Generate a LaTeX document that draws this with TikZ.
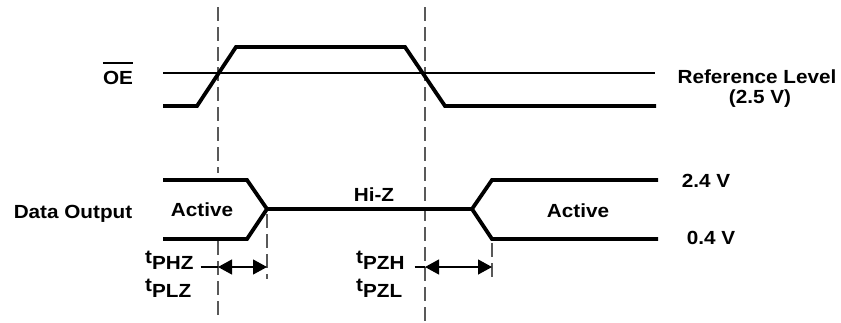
\documentclass[tikz,border=0pt]{standalone}
\usepackage{fontspec}
\newfontfamily\tdfont{Liberation Sans}[FakeStretch=1.09]
\usetikzlibrary{arrows.meta}
\tikzset{
x=1pt,y=-1pt,
>={Triangle[length=14pt,width=15pt]},
lbl/.style={font=\tdfont\bfseries\fontsize{19}{22}\selectfont,inner sep=0pt},
wave/.style={line width=3.8pt,line join=miter},
reflevel/.style={line width=1.2pt},
guide/.style={draw=black!65,line width=1.6pt,dash pattern=on 14pt off 6pt},
dim/.style={line width=1.2pt}
}

\begin{document}
\begin{tikzpicture}
\useasboundingbox (0,0) rectangle (841,322);

% labels
\node[lbl,anchor=base] (oe)     at (118,84)  {OE};
\node[lbl,anchor=base] (ref)    at (757,83)  {Reference Level};
\node[lbl,anchor=base] (refv)   at (760,103) {(2.5 V)};
\node[lbl,anchor=base] (dout)   at (73,218)  {Data Output};
\node[lbl,anchor=base] (act1)   at (202,216) {Active};
\node[lbl,anchor=base] (hiz)    at (374,201) {Hi-Z};
\node[lbl,anchor=base] (act2)   at (578,217) {Active};
\node[lbl,anchor=base] (vhigh)  at (706,187) {2.4 V};
\node[lbl,anchor=base] (vlow)   at (711,244) {0.4 V};
\node[lbl,anchor=base west] (tphz) at (145,263) {t\raisebox{-6pt}{PHZ}};
\node[lbl,anchor=base west] (tplz) at (145,291) {t\raisebox{-6pt}{PLZ}};
\node[lbl,anchor=base west] (tpzh) at (356,263) {t\raisebox{-6pt}{PZH}};
\node[lbl,anchor=base west] (tpzl) at (356,291) {t\raisebox{-6pt}{PZL}};

\draw[line width=2.7pt] ([yshift=21pt]oe.base west) -- ([yshift=21pt]oe.base east);

% guide lines
\coordinate (g1a) at (218,7);   \coordinate (g1b) at (218,173);
\coordinate (g1c) at (218,241); \coordinate (g1d) at (218,316);
\coordinate (g2a) at (425,7);   \coordinate (g2b) at (425,321);
\coordinate (g3a) at (267,214); \coordinate (g3b) at (267,279);
\coordinate (g4a) at (492,243); \coordinate (g4b) at (492,281);
\draw[guide] (g1a) -- (g1b) (g1c) -- (g1d);
\draw[guide] (g2a) -- (g2b);
\draw[guide] (g3a) -- (g3b);
\draw[guide] (g4a) -- (g4b);

% OE waveform
\draw[reflevel] (163,73) -- (655,73);
\draw[wave] (163,106) -- (197,106) -- (236,47) -- (405,47) -- (445,106) -- (656,106);

% data output waveform
\draw[wave] (163,180) -- (247,180) -- (267,209) -- (472,209) -- (492,180) -- (658,180);
\draw[wave] (163,239) -- (247,239) -- (267,209);
\draw[wave] (472,209) -- (492,239) -- (658,239);

% timing arrows
\coordinate (a1) at (218,267); \coordinate (a2) at (267,267);
\coordinate (a3) at (425,267); \coordinate (a4) at (492,267);
\coordinate (l1) at ([xshift=7pt]tphz.east);
\coordinate (l2) at ([xshift=10pt]tpzh.east);
\draw[dim] (l1 |- a1) -- (a1);
\draw[dim] (l2 |- a3) -- (a3);
\draw[dim,<->] (a1) -- (a2);
\draw[dim,<->] (a3) -- (a4);
\end{tikzpicture}
\end{document}
